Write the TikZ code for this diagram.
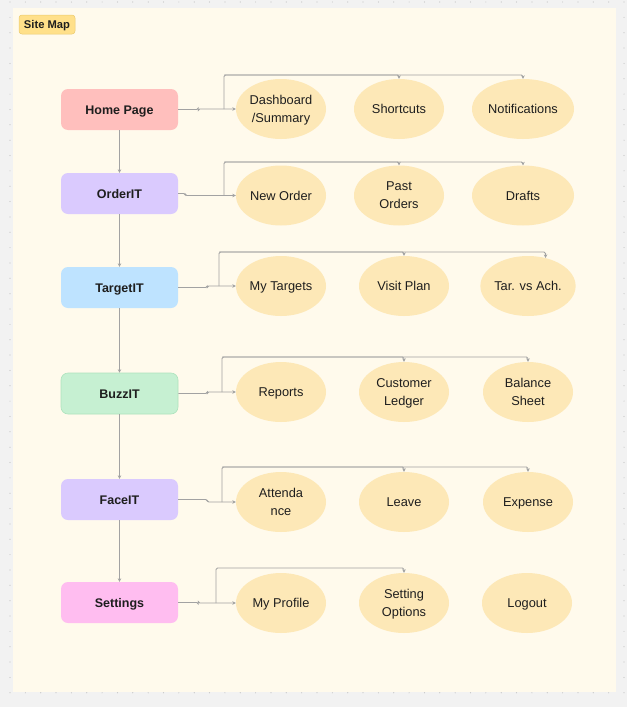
\documentclass[tikz,border=0pt]{standalone}
\usepackage{fontspec}
\setmainfont{Liberation Sans}
\usetikzlibrary{arrows.meta,calc,shapes.geometric}
\definecolor{bgc}{HTML}{F2F2F2}
\definecolor{dotc}{HTML}{C4C4C4}
\definecolor{panelc}{HTML}{FFFAEC}
\definecolor{homec}{HTML}{FFBFBD}
\definecolor{lavc}{HTML}{DACAFE}
\definecolor{bluec}{HTML}{BEE3FF}
\definecolor{greenc}{HTML}{C6F0D2}
\definecolor{greenb}{HTML}{AEE3BD}
\definecolor{pinkc}{HTML}{FFBDF0}
\definecolor{ellc}{HTML}{FDE8B7}
\definecolor{labc}{HTML}{FFE08A}
\definecolor{labb}{HTML}{EBCB6E}
\definecolor{linec}{HTML}{A2A2A2}
\definecolor{txtc}{HTML}{1E1E1E}
\begin{document}
\begin{tikzpicture}[x=1pt,y=-1pt,
  pagebox/.style={rectangle,rounded corners=7pt,minimum width=117pt,minimum height=41pt,inner sep=0pt,
    text height=9pt,text depth=0pt,
    font=\fontsize{12.5}{14}\selectfont\bfseries,text=txtc},
  leaf/.style={ellipse,fill=ellc,minimum width=90pt,minimum height=60pt,inner sep=0pt,align=center,
    text depth=0pt,
    font=\fontsize{12.8}{18}\selectfont,text=txtc},
  link/.style={draw=linec,line width=0.9pt,-{Stealth[length=3.5pt,width=3.5pt]}},
  plain/.style={draw=linec,line width=0.9pt}]
\useasboundingbox (0,0) rectangle (627,707);
\fill[bgc] (0,0) rectangle (627,707);
\foreach \i in {0,...,40} {\foreach \j in {0,...,45} {
  \fill[dotc] (10+\i*15.35,2+\j*15.35) circle (0.6pt);}}
\fill[panelc] (13,8) rectangle (616,692);
% label
\node[rectangle,rounded corners=3pt,fill=labc,draw=labb,line width=0.5pt,minimum width=56pt,minimum height=19pt,inner sep=0pt,
  text height=8pt,text depth=0pt,
  font=\fontsize{11.2}{13}\selectfont\bfseries,text=txtc] (lab) at (47,24.5) {Site Map};
% left column
\node[pagebox,fill=homec] (hp) at (119.5,109.5) {Home Page};
\node[pagebox,fill=lavc] (oi) at (119.5,193.5) {OrderIT};
\node[pagebox,fill=bluec] (ti) at (119.5,287.5) {TargetIT};
\node[pagebox,fill=greenc,draw=greenb,line width=0.6pt] (bi) at (119.5,393.5) {BuzzIT};
\node[pagebox,fill=lavc] (fi) at (119.5,499.5) {FaceIT};
\node[pagebox,fill=pinkc] (st) at (119.5,602.5) {Settings};
% row 1
\node[leaf] (d1) at (281,109) {Dashboard\\/Summary};
\node[leaf] (s1) at (399,109) {Shortcuts};
\node[leaf,minimum width=102pt] (n1) at (523,109) {Notifications};
% row 2
\node[leaf] (d2) at (281,195.5) {New Order};
\node[leaf] (s2) at (399,195.5) {Past\\Orders};
\node[leaf,minimum width=102pt] (n2) at (523,195.5) {Drafts};
% row 3
\node[leaf] (d3) at (281,286) {My Targets};
\node[leaf] (s3) at (404,286) {Visit Plan};
\node[leaf] (n3) at (528,286) {Tar. vs Ach.};
% row 4
\node[leaf] (d4) at (281,392) {Reports};
\node[leaf] (s4) at (404,392) {Customer\\Ledger};
\node[leaf] (n4) at (528,392) {Balance\\Sheet};
% row 5
\node[leaf] (d5) at (281,502) {Attenda\\nce};
\node[leaf] (s5) at (404,502) {Leave};
\node[leaf] (n5) at (528,502) {Expense};
% row 6
\node[leaf] (d6) at (281,603) {My Profile};
\node[leaf] (s6) at (404,603) {Setting\\Options};
\node[leaf] (n6) at (527,603) {Logout};
% vertical links
\draw[link] (hp.south) -- (oi.north);
\draw[link] (oi.south) -- (ti.north);
\draw[link] (ti.south) -- (bi.north);
\draw[link] (bi.south) -- (fi.north);
\draw[link] (fi.south) -- (st.north);
% row 1 links
\coordinate (b1) at (224,109);
\coordinate (t1) at (224,75);
\draw[link,rounded corners=1.5pt] (hp.east) -- ($(hp.east)+(20,0)$) |- (d1.west);
\draw[link,rounded corners=1.5pt] (b1) -- (t1) -| (s1.north);
\draw[link,rounded corners=1.5pt] (t1) -| (n1.north);
% row 2 links
\coordinate (b2) at (224,195.5);
\coordinate (t2) at (224,162);
\draw[link,rounded corners=1.5pt] (oi.east) -- ($(oi.east)+(7,0)$) |- (d2.west);
\draw[link,rounded corners=1.5pt] (b2) -- (t2) -| (s2.north);
\draw[link,rounded corners=1.5pt] (t2) -| (n2.north);
% row 3 links
\coordinate (b3) at (219,286);
\coordinate (t3) at (219,252);
\draw[link,rounded corners=1.5pt] (ti.east) -- ($(ti.east)+(29,0)$) |- (d3.west);
\draw[link,rounded corners=1.5pt] (b3) -- (t3) -| (s3.north);
\draw[link,rounded corners=1.5pt] (t3) -| (n3.58);
% row 4 links
\coordinate (b4) at (222,392);
\coordinate (t4) at (222,357);
\draw[link,rounded corners=1.5pt] (bi.east) -- ($(bi.east)+(29,0)$) |- (d4.west);
\draw[link,rounded corners=1.5pt] (b4) -- (t4) -| (s4.north);
\draw[link,rounded corners=1.5pt] (t4) -| (n4.north);
% row 5 links
\coordinate (b5) at (222,502);
\coordinate (t5) at (222,467);
\draw[link,rounded corners=1.5pt] (fi.east) -- ($(fi.east)+(29,0)$) |- (d5.west);
\draw[link,rounded corners=1.5pt] (b5) -- (t5) -| (s5.north);
\draw[link,rounded corners=1.5pt] (t5) -| (n5.north);
% row 6 links
\coordinate (b6) at (216,603);
\coordinate (t6) at (216,568);
\draw[link,rounded corners=1.5pt] (st.east) -- ($(st.east)+(20,0)$) |- (d6.west);
\draw[link,rounded corners=1.5pt] (b6) -- (t6) -| (s6.north);
\end{tikzpicture}
\end{document}
